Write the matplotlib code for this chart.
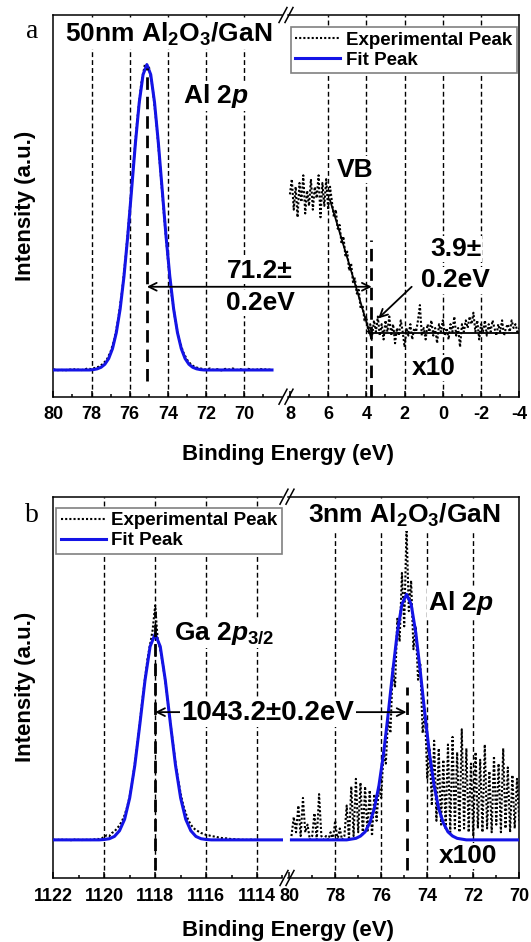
import matplotlib
matplotlib.use("Agg")

import matplotlib.pyplot as plt
import numpy as np
from matplotlib.lines import Line2D
from matplotlib.patches import ConnectionPatch

W, H = 531, 942

plt.rcParams.update({
    "font.family": "Liberation Sans",
    "font.weight": "bold",
    "mathtext.fontset": "custom",
    "mathtext.rm": "Liberation Sans:bold",
    "mathtext.it": "Liberation Sans:italic:bold",
    "mathtext.bf": "Liberation Sans:bold",
    "axes.linewidth": 1.1,
    "axes.unicode_minus": False,
})

FIT_BLUE = "#1414e6"
EXP_STYLE = dict(color="black", lw=1.5, linestyle=(0, (1, 1)))
FIT_STYLE = dict(color=FIT_BLUE, lw=2.2)

# ---------------- panel a: 50nm Al2O3/GaN ----------------
a_al_exp_x = np.round(np.arange(80.0, 68.55, -0.2), 1)
a_al_exp_y = [0.072, 0.069, 0.071, 0.068, 0.072, 0.070, 0.073, 0.069, 0.071, 0.074,
              0.072, 0.076, 0.079, 0.086, 0.097, 0.118, 0.150, 0.204, 0.276, 0.372,
              0.488, 0.611, 0.728, 0.818, 0.872, 0.866, 0.809, 0.716, 0.598, 0.474,
              0.360, 0.266, 0.196, 0.148, 0.117, 0.097, 0.085, 0.078, 0.075, 0.073,
              0.071, 0.074, 0.070, 0.072, 0.069, 0.073, 0.071, 0.074, 0.070, 0.072,
              0.069, 0.073, 0.071, 0.070, 0.073, 0.071, 0.072, 0.070]
a_al_fit_x = [80.0, 78.1, 77.9, 77.7, 77.5, 77.3, 77.1, 76.9, 76.7, 76.5, 76.3, 76.1,
              75.9, 75.7, 75.5, 75.3, 75.1, 74.9, 74.7, 74.5, 74.3, 74.1, 73.9, 73.7,
              73.5, 73.3, 73.1, 72.9, 72.7, 72.5, 72.3, 72.1, 68.55]
a_al_fit_y = [0.070, 0.070, 0.071, 0.073, 0.077, 0.085, 0.100, 0.126, 0.168, 0.230,
              0.315, 0.422, 0.543, 0.665, 0.771, 0.844, 0.870, 0.844, 0.771, 0.665,
              0.543, 0.422, 0.315, 0.230, 0.168, 0.126, 0.100, 0.085, 0.077, 0.073,
              0.071, 0.070, 0.070]

a_vb_x = np.round(np.arange(8.0, -4.05, -0.1), 1)
a_vb_y = [0.53, 0.57, 0.49, 0.55, 0.47, 0.56, 0.51, 0.58, 0.48, 0.54,
          0.50, 0.57, 0.49, 0.55, 0.52, 0.58, 0.47, 0.56, 0.50, 0.57,
          0.49, 0.55, 0.51, 0.47, 0.49, 0.44, 0.45, 0.40, 0.42, 0.37,
          0.38, 0.33, 0.35, 0.30, 0.31, 0.27, 0.28, 0.23, 0.24, 0.20,
          0.21, 0.17, 0.19, 0.16, 0.20, 0.17, 0.21, 0.16, 0.19, 0.15,
          0.20, 0.17, 0.21, 0.16, 0.19, 0.14, 0.18, 0.16, 0.20, 0.17,
          0.13, 0.18, 0.16, 0.19, 0.15, 0.18, 0.17, 0.20, 0.24, 0.16,
          0.18, 0.15, 0.19, 0.17, 0.20, 0.16, 0.18, 0.14, 0.19, 0.17,
          0.20, 0.16, 0.18, 0.15, 0.19, 0.17, 0.21, 0.16, 0.18, 0.13,
          0.19, 0.17, 0.20, 0.18, 0.21, 0.19, 0.22, 0.17, 0.20, 0.15,
          0.19, 0.17, 0.20, 0.16, 0.19, 0.17, 0.20, 0.18, 0.16, 0.19,
          0.17, 0.20, 0.16, 0.18, 0.19, 0.17, 0.20, 0.18, 0.19, 0.17,
          0.18]
a_vb_edge_x = [5.9, 3.72]
a_vb_edge_y = [0.515, 0.149]
a_vb_base_x = [3.85, -4.0]
a_vb_base_y = [0.166, 0.166]

a_al_pos = 75.1
a_vbm_pos = 3.75
a_arrow_y = 0.288

# ---------------- panel b: 3nm Al2O3/GaN ----------------
b_ga_exp_x = np.round(np.arange(1122.0, 1113.95, -0.1), 1)
b_ga_exp_y = [0.101, 0.099, 0.100, 0.102, 0.099, 0.100, 0.101, 0.099, 0.100, 0.102,
              0.100, 0.099, 0.101, 0.100, 0.102, 0.099, 0.101, 0.103,
              0.102, 0.104, 0.108, 0.112, 0.110, 0.118, 0.122, 0.130, 0.138, 0.150,
              0.165, 0.186, 0.214, 0.252, 0.300, 0.352, 0.408, 0.468, 0.522, 0.575,
              0.612, 0.650,
              0.715,
              0.625, 0.600, 0.562, 0.515, 0.460, 0.405, 0.352, 0.302, 0.258, 0.222,
              0.192, 0.170, 0.152, 0.140, 0.131, 0.126, 0.122, 0.118, 0.116, 0.113,
              0.112, 0.110, 0.109, 0.108, 0.106, 0.105, 0.104, 0.104, 0.103, 0.102,
              0.102, 0.101, 0.101, 0.100, 0.101, 0.100, 0.100, 0.101, 0.100, 0.100]
b_ga_fit_x = [1122.0, 1120.2, 1120.0, 1119.8, 1119.6, 1119.4, 1119.2, 1119.0, 1118.8,
              1118.6, 1118.4, 1118.2, 1118.0, 1117.8, 1117.6, 1117.4, 1117.2, 1117.0,
              1116.8, 1116.6, 1116.4, 1116.2, 1116.0, 1115.8, 1113.0]
b_ga_fit_y = [0.100, 0.100, 0.101, 0.103, 0.109, 0.124, 0.154, 0.210, 0.295, 0.404,
              0.518, 0.607, 0.640, 0.607, 0.518, 0.404, 0.295, 0.210, 0.154, 0.124,
              0.109, 0.103, 0.101, 0.100, 0.100]

b_al_exp_x = np.round(np.arange(79.9, 69.95, -0.1), 1)
b_al_exp_y = [0.11, 0.16, 0.12, 0.19, 0.11, 0.21, 0.12, 0.14, 0.10, 0.11,
              0.17, 0.10, 0.22, 0.11, 0.10, 0.11, 0.10, 0.12, 0.10, 0.15,
              0.10, 0.13, 0.10, 0.11, 0.19, 0.10, 0.24, 0.11, 0.26, 0.12,
              0.25, 0.11, 0.24, 0.12, 0.23, 0.11, 0.22, 0.15, 0.24, 0.21,
              0.33, 0.30, 0.42, 0.38, 0.55, 0.50, 0.68, 0.62, 0.80, 0.66,
              0.92, 0.70, 0.78, 0.60, 0.66, 0.52, 0.56, 0.38, 0.44, 0.26,
              0.34, 0.19, 0.36, 0.15, 0.34, 0.14, 0.31, 0.13, 0.35, 0.12,
              0.37, 0.13, 0.33, 0.12, 0.39, 0.13, 0.34, 0.12, 0.30, 0.11,
              0.33, 0.13, 0.31, 0.12, 0.35, 0.13, 0.28, 0.12, 0.32, 0.14,
              0.30, 0.12, 0.34, 0.13, 0.29, 0.12, 0.27, 0.13, 0.26, 0.15]
b_al_fit_x = [79.9, 77.5, 77.3, 77.1, 76.9, 76.7, 76.5, 76.3, 76.1, 75.9, 75.7, 75.5,
              75.3, 75.1, 74.9, 74.7, 74.5, 74.3, 74.1, 73.9, 73.7, 73.5, 73.3, 73.1,
              72.9, 72.7, 72.5, 72.3, 70.0]
b_al_fit_y = [0.100, 0.100, 0.102, 0.104, 0.110, 0.121, 0.144, 0.182, 0.242, 0.325,
              0.429, 0.541, 0.644, 0.718, 0.744, 0.718, 0.644, 0.541, 0.429, 0.325,
              0.242, 0.182, 0.144, 0.121, 0.110, 0.104, 0.102, 0.100, 0.100]

b_ga_pos = 1118.0
b_al_pos = 74.9
b_arrow_y = 0.435


def px(x, y):
    return x / W, 1 - y / H


def ftxt(fig, x, y, s, size=19, ha="left", va="baseline", box=True, **kw):
    bbox = dict(facecolor="white", edgecolor="none", pad=1) if box else None
    fig.text(*px(x, y), s, size=size, ha=ha, va=va, bbox=bbox, **kw)


def style_axis(ax, xlim, major, minor, grid, side):
    ax.set_xlim(*xlim)
    ax.set_ylim(0, 1)
    ax.set_xticks(major, [str(v) for v in major], fontsize=13, fontweight="bold")
    ax.set_xticks(minor, minor=True)
    ax.set_yticks([])
    ax.tick_params(axis="x", which="major", direction="in", length=4.5, width=1.1,
                   pad=7)
    ax.tick_params(axis="x", which="minor", direction="in", length=2.5, width=1.1)
    for g in grid:
        ax.axvline(g, color="black", lw=1.0, linestyle=(0, (3.5, 2.2)), zorder=1)
    if side == "left":
        ax.spines["right"].set_visible(False)
    else:
        ax.spines["left"].set_visible(False)


def break_marks(fig, x, ys):
    for y in ys:
        for dx in (-3, 3):
            fig.add_artist(Line2D([(x + dx - 4) / W, (x + dx + 4) / W],
                                  [1 - (y + 7.5) / H, 1 - (y - 7.5) / H],
                                  color="black", lw=1.1))


def add_legend(fig, handles, loc, anchor):
    leg = fig.legend(handles, ["Experimental Peak", "Fit Peak"], loc=loc,
                     bbox_to_anchor=anchor, bbox_transform=fig.transFigure,
                     frameon=True, fancybox=False, edgecolor="#808080", framealpha=1,
                     borderaxespad=0, borderpad=0.25, handlelength=2.4,
                     handletextpad=0.3, labelspacing=0.15,
                     prop=dict(size=13.5, weight="bold"))
    leg.get_frame().set_linewidth(1.2)


fig = plt.figure(figsize=(W / 100, H / 100), dpi=100)

XL0, XL1, XR0, XR1 = 53.3, 282.5, 288.0, 519.3
LONG_DASH = dict(color="black", lw=2.0, linestyle=(0, (4.5, 2.5)), zorder=4)

# ---- panel a ----
ta, ba = 15.0, 396.7
axLa = fig.add_axes([XL0 / W, 1 - ba / H, (XL1 - XL0) / W, (ba - ta) / H])
axRa = fig.add_axes([XR0 / W, 1 - ba / H, (XR1 - XR0) / W, (ba - ta) / H])
style_axis(axLa, (80, 68.0), [80, 78, 76, 74, 72, 70], [79, 77, 75, 73, 71, 69],
           [78, 76, 74, 72, 70], "left")
style_axis(axRa, (8.1, -4), [8, 6, 4, 2, 0, -2, -4], [7, 5, 3, 1, -1, -3],
           [6, 4, 2, 0, -2], "right")

h_exp, = axLa.plot(a_al_exp_x, a_al_exp_y, zorder=2, **EXP_STYLE)
h_fit, = axLa.plot(a_al_fit_x, a_al_fit_y, zorder=3, **FIT_STYLE)
axLa.plot([a_al_pos, a_al_pos], [0.04, 0.86], **LONG_DASH)

axRa.plot(a_vb_x, a_vb_y, zorder=2, **EXP_STYLE)
axRa.plot(a_vb_edge_x, a_vb_edge_y, color="black", lw=1.3, zorder=3)
axRa.plot(a_vb_base_x, a_vb_base_y, color="black", lw=1.3, zorder=3)
axRa.plot([a_vbm_pos, a_vbm_pos], [0.0, 0.41], **LONG_DASH)

con = ConnectionPatch(xyA=(a_al_pos, a_arrow_y), coordsA="data", axesA=axLa,
                      xyB=(3.72, a_arrow_y), coordsB="data", axesB=axRa,
                      arrowstyle="<->", mutation_scale=14, lw=1.3, color="black",
                      shrinkA=0, shrinkB=0)
fig.add_artist(con)
axRa.annotate("", xy=(3.38, 0.205), xytext=(1.63, 0.288),
              arrowprops=dict(arrowstyle="->", lw=1.3, mutation_scale=14,
                              shrinkA=0, shrinkB=0, color="black"))

add_legend(fig, [h_exp, h_fit], "upper right", px(517, 27))
break_marks(fig, 286, [ta, ba])

ftxt(fig, 32, 32, "a", size=20, ha="center", va="center", box=False,
     family="Liberation Serif", weight="normal")
ftxt(fig, 65, 41.7, r"50nm Al$_{\mathbf{2}}$O$_{\mathbf{3}}$/GaN")
ftxt(fig, 183, 103, r"Al $\mathit{2p}$")
ftxt(fig, 337, 176.7, "VB")
ftxt(fig, 260, 278, "71.2\u00b1", ha="center")
ftxt(fig, 260, 310, "0.2eV", ha="center")
ftxt(fig, 455.5, 256, "3.9\u00b1", ha="center")
ftxt(fig, 455, 287.3, "0.2eV", ha="center")
ftxt(fig, 434, 375, "x10", ha="center")
ftxt(fig, 288, 460, "Binding Energy (eV)", size=16, ha="center", box=False)
ftxt(fig, 26, (ta + ba) / 2, "Intensity (a.u.)", size=16, ha="center", va="center",
     box=False, rotation=90)

# ---- panel b ----
tb, bb = 496.7, 878.0
axLb = fig.add_axes([XL0 / W, 1 - bb / H, (XL1 - XL0) / W, (bb - tb) / H])
axRb = fig.add_axes([XR0 / W, 1 - bb / H, (XR1 - XR0) / W, (bb - tb) / H])
style_axis(axLb, (1122, 1113.0), [1122, 1120, 1118, 1116, 1114],
           [1121, 1119, 1117, 1115, 1113], [1120, 1118, 1116, 1114], "left")
style_axis(axRb, (80.05, 70), [80, 78, 76, 74, 72, 70], [79, 77, 75, 73, 71],
           [78, 76, 74, 72], "right")

h_exp_b, = axLb.plot(b_ga_exp_x, b_ga_exp_y, zorder=2, **EXP_STYLE)
h_fit_b, = axLb.plot(b_ga_fit_x, b_ga_fit_y, zorder=3, **FIT_STYLE)
axLb.plot([b_ga_pos, b_ga_pos], [0.02, 0.70], **LONG_DASH)

axRb.plot(b_al_exp_x, b_al_exp_y, zorder=2, **EXP_STYLE)
axRb.plot(b_al_fit_x, b_al_fit_y, zorder=3, **FIT_STYLE)
axRb.plot([b_al_pos, b_al_pos], [0.02, 0.50], **LONG_DASH)

con_b = ConnectionPatch(xyA=(b_ga_pos, b_arrow_y), coordsA="data", axesA=axLb,
                        xyB=(b_al_pos, b_arrow_y), coordsB="data", axesB=axRb,
                        arrowstyle="<->", mutation_scale=14, lw=1.3, color="black",
                        shrinkA=0, shrinkB=0)
fig.add_artist(con_b)

add_legend(fig, [h_exp_b, h_fit_b], "upper left", px(56, 507.6))
break_marks(fig, 287, [tb, bb])

ftxt(fig, 31.5, 516, "b", size=20, ha="center", va="center", box=False,
     family="Liberation Serif", weight="normal")
ftxt(fig, 308, 523, r"3nm Al$_{\mathbf{2}}$O$_{\mathbf{3}}$/GaN")
ftxt(fig, 428, 609.7, r"Al $\mathit{2p}$")
ftxt(fig, 173.5, 640, r"Ga $\mathit{2p_{3/2}}$")
ftxt(fig, 268, 720, "1043.2\u00b10.2eV", size=20, ha="center")
ftxt(fig, 468, 863, "x100", ha="center")
ftxt(fig, 288, 936, "Binding Energy (eV)", size=16, ha="center", box=False)
ftxt(fig, 26, (tb + bb) / 2, "Intensity (a.u.)", size=16, ha="center", va="center",
     box=False, rotation=90)

fig.savefig("out.png", dpi=100)
